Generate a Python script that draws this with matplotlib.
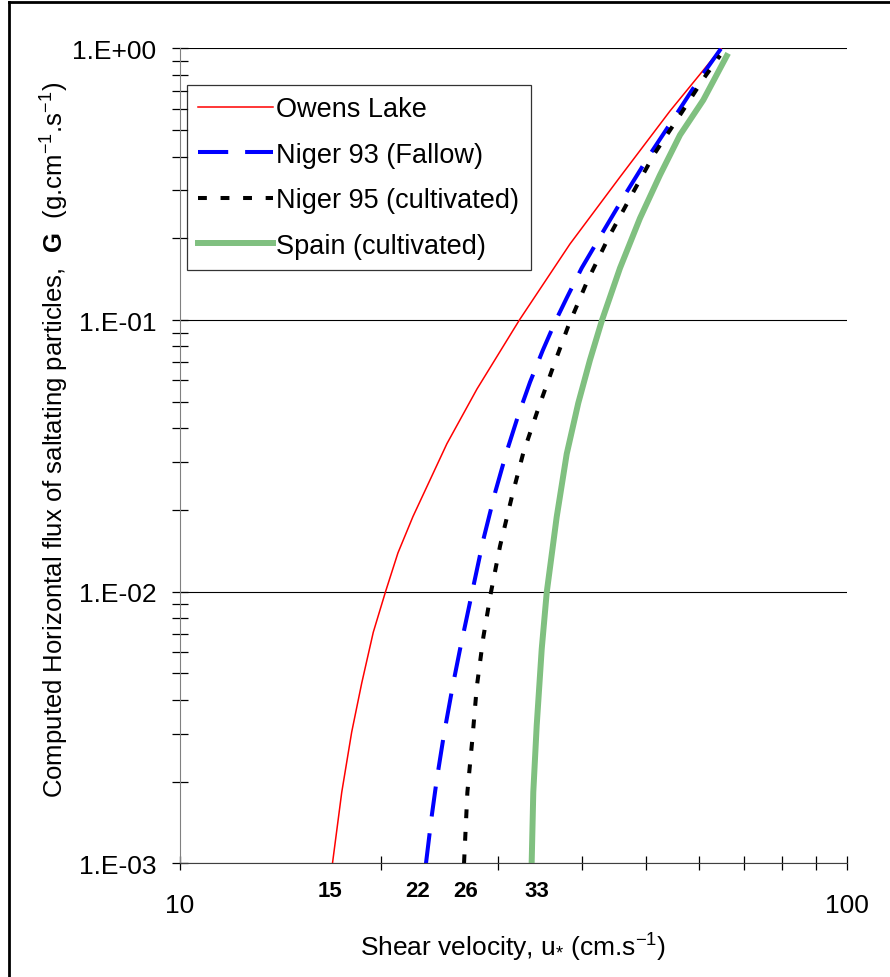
import matplotlib.pyplot as plt
from matplotlib.lines import Line2D
from matplotlib.ticker import LogLocator, NullFormatter, FixedFormatter, FixedLocator

plt.rcParams['font.family'] = ['Liberation Sans', 'DejaVu Sans']
plt.rcParams['mathtext.fontset'] = 'custom'
plt.rcParams['mathtext.rm'] = 'Liberation Sans'
plt.rcParams['mathtext.it'] = 'Liberation Sans:italic'
plt.rcParams['mathtext.bf'] = 'Liberation Sans:bold'

# shear velocity (cm/s) and horizontal flux G (g/cm/s)
owens_u = [16.93, 17.48, 18.09, 18.73, 19.49, 20.34, 21.22, 22.35, 25.13, 27.88, 32.27, 38.43, 45.68, 54.28, 64.74]
owens_g = [0.001, 0.001826, 0.00304, 0.004612, 0.00709, 0.01003, 0.01388, 0.0189, 0.03506, 0.05576, 0.1,
           0.1906, 0.3365, 0.5887, 1.0]

niger93_u = [23.38, 23.84, 24.26, 24.88, 25.69, 26.29, 26.91, 27.53, 28.50, 29.68, 30.90, 32.16,
             33.48, 34.98, 36.62, 38.00, 40.02, 43.37, 46.74, 50.64, 54.90, 59.52, 64.74]
niger93_g = [0.001, 0.001485, 0.002026, 0.002993, 0.004612, 0.006126, 0.00802, 0.01045, 0.01557, 0.02318,
             0.03288, 0.04473, 0.05907, 0.07727, 0.1, 0.1206, 0.1555, 0.2175, 0.2963, 0.4072, 0.55, 0.7464, 1.0]

niger95_u = [26.66, 26.97, 27.44, 27.86, 28.50, 29.27, 30.19, 31.44, 32.71, 34.45, 36.28,
             38.21, 40.72, 43.87, 47.82, 51.53, 56.19, 60.89, 64.51]
niger95_g = [0.001, 0.001826, 0.00287, 0.004458, 0.00681, 0.01, 0.01473, 0.02232, 0.03241, 0.04725,
             0.06751, 0.09512, 0.1376, 0.2006, 0.2963, 0.4124, 0.5689, 0.7722, 0.9424]

spain_u = [33.67, 33.86, 34.26, 34.86, 35.47, 36.71, 38.00, 39.55, 41.18, 42.93, 45.67, 48.93,
           52.43, 56.19, 60.89, 66.01]
spain_g = [0.001, 0.001826, 0.00321, 0.00615, 0.00995, 0.01884, 0.03214, 0.04951, 0.0713, 0.1,
           0.1553, 0.237, 0.3419, 0.4804, 0.646, 0.9384]

threshold_labels = ['15', '22', '26', '33']

fig = plt.figure(figsize=(8.9, 9.78), dpi=100)
ax = fig.add_axes([0.2022, 0.1163, 0.7495, 0.8331])

ax.plot(owens_u, owens_g, color='#ff0000', lw=1.1, label='Owens Lake')
ax.plot(niger93_u, niger93_g, color='#0000ff', lw=2.9, dashes=(7.5, 4.2), label='Niger 93 (Fallow)')
ax.plot(niger95_u, niger95_g, color='black', lw=2.9, dashes=(2.2, 3.4), label='Niger 95 (cultivated)')
ax.plot(spain_u, spain_g, color='#80c080', lw=4.3, label='Spain (cultivated)')

ax.set_xscale('log')
ax.set_yscale('log')
ax.set_xlim(10, 100)
ax.set_ylim(1e-3, 1)

ax.xaxis.set_major_locator(FixedLocator([10, 100]))
ax.xaxis.set_major_formatter(FixedFormatter(['10', '100']))
ax.xaxis.set_minor_locator(LogLocator(base=10, subs=range(2, 10)))
ax.xaxis.set_minor_formatter(NullFormatter())
ax.yaxis.set_major_locator(FixedLocator([1e-3, 1e-2, 1e-1, 1]))
ax.yaxis.set_major_formatter(FixedFormatter(['1.E-03', '1.E-02', '1.E-01', '1.E+00']))
ax.yaxis.set_minor_locator(LogLocator(base=10, subs=range(2, 10), numticks=10))
ax.yaxis.set_minor_formatter(NullFormatter())

ax.tick_params(axis='both', which='both', direction='inout', colors='black', width=0.9, labelsize=19)
ax.tick_params(axis='y', which='both', length=11, pad=11.5)
ax.tick_params(axis='x', which='both', length=9.5, pad=16.5)

ax.grid(True, axis='y', which='major', color='black', lw=0.8)
ax.spines['top'].set_visible(False)
ax.spines['right'].set_visible(False)
ax.spines['left'].set_color('#808080')
ax.spines['bottom'].set_color('#404040')

# threshold velocity annotations under each curve
offsets = [-2, -6, 1, 4]
for u, lab, dx in zip([owens_u[0], niger93_u[0], niger95_u[0], spain_u[0]], threshold_labels, offsets):
    ax.annotate(lab, xy=(u, 1e-3), xytext=(dx, -12), textcoords='offset points',
                ha='center', va='top', fontsize=16, fontweight='bold', annotation_clip=False)

ax.set_xlabel(r'Shear velocity, u$_{*}$ (cm.s$^{-1}$)', fontsize=19, labelpad=10)
ax.set_ylabel(r'Computed Horizontal flux of saltating particles,  $\mathbf{G}$  (g.cm$^{-1}$.s$^{-1}$)',
              fontsize=18.5)
ax.yaxis.set_label_coords(-0.163, 0.521)

leg = ax.legend(loc='upper left', bbox_to_anchor=(0.0105, 0.9552), borderaxespad=0, fontsize=19.5,
                fancybox=False, frameon=True, edgecolor='black', handlelength=2.77,
                handletextpad=0.11, labelspacing=0.72, borderpad=0.42)
leg.get_frame().set_linewidth(0.9)

# outer frame (top and left only)
fig.add_artist(Line2D([8.5 / 890, 8.5 / 890], [0, 1 - 3 / 978], transform=fig.transFigure, color='black', lw=2))
fig.add_artist(Line2D([8.5 / 890, 1], [1 - 3 / 978, 1 - 3 / 978], transform=fig.transFigure, color='black', lw=2))

fig.savefig('out.png', dpi=100)
